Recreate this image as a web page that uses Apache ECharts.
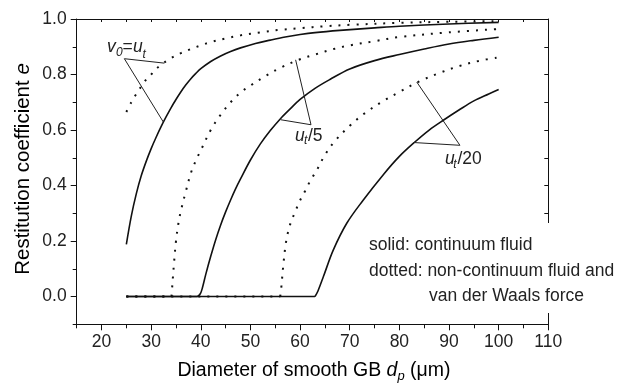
<!DOCTYPE html>
<html>
<head>
<meta charset="utf-8">
<script src="https://cdn.jsdelivr.net/npm/echarts@6/dist/echarts.min.js"></script>
<style>
html,body{margin:0;padding:0;background:#fff;}
#chart{width:625px;height:383px;}
</style>
</head>
<body>
<div id="chart"></div>
<script>
// ---- axis ticks / labels ----
var xMajorTicks = [20, 30, 40, 50, 60, 70, 80, 90, 100, 110];
var xMinorTicks = [15, 25, 35, 45, 55, 65, 75, 85, 95, 105];
var xTopTicks = [15, 20, 25, 30, 35, 40, 45, 50, 55, 60, 65, 70, 75, 80, 85, 90, 95, 100, 105, 110];
var yMajorTicks = [0, 0.2, 0.4, 0.6, 0.8, 1.0];
var yMinorTicks = [-0.1, 0.1, 0.3, 0.5, 0.7, 0.9];
var yRightTicks = [-0.1, 0, 0.1, 0.2, 0.3, 0.4, 0.5, 0.6, 0.7, 0.8, 0.9, 1.0];

// ---- v0 = ut ----
var solid1_d = [25, 26, 27, 28, 29, 30, 31, 32, 33, 34, 35, 36, 37, 38, 39, 40, 42, 44, 46, 48, 51, 54, 57, 60, 63, 68, 75, 80, 90, 100];
var solid1_e = [0.188, 0.29, 0.37, 0.435, 0.487, 0.533, 0.574, 0.612, 0.647, 0.68, 0.71, 0.738, 0.763, 0.785, 0.804, 0.821, 0.847, 0.867, 0.883, 0.896, 0.912, 0.924, 0.935, 0.944, 0.951, 0.959, 0.968, 0.974, 0.982, 0.988];
var dotted1_d = [25, 26, 27, 28, 29, 30, 31, 32, 34, 36, 38, 40, 42, 45, 48, 52, 56, 60, 65, 70, 80, 90, 100];
var dotted1_e = [0.665, 0.70, 0.73, 0.757, 0.782, 0.80, 0.82, 0.835, 0.859, 0.877, 0.892, 0.905, 0.917, 0.93, 0.941, 0.952, 0.961, 0.967, 0.974, 0.979, 0.986, 0.99, 0.992];

// ---- ut/5 (first two points: e = 0 plateau) ----
var solid2_d = [25, 39.3, 39.9, 40.3, 41, 42, 43, 44, 45, 46, 47, 48, 50, 52, 54, 56, 58, 60, 63, 66, 70, 75, 80, 85, 90, 95, 100];
var solid2_e = [0, 0, 0.01, 0.03, 0.08, 0.145, 0.205, 0.258, 0.305, 0.348, 0.388, 0.424, 0.492, 0.55, 0.598, 0.64, 0.676, 0.71, 0.75, 0.782, 0.82, 0.85, 0.872, 0.892, 0.91, 0.923, 0.934];
var dotted2_d = [25, 34.1, 34.3, 34.6, 35, 35.5, 36, 37, 38, 39, 40, 42, 44, 46, 48, 50, 53, 56, 60, 63, 67, 70, 75, 80, 90, 100];
var dotted2_e = [0, 0, 0.05, 0.12, 0.2, 0.265, 0.31, 0.38, 0.445, 0.49, 0.527, 0.6, 0.655, 0.7, 0.735, 0.76, 0.794, 0.824, 0.855, 0.872, 0.893, 0.905, 0.92, 0.935, 0.952, 0.964];

// ---- ut/20 (first two points: e = 0 plateau) ----
var solid3_d = [25, 63, 63.6, 64.7, 66.7, 69.4, 72.7, 76.8, 80, 83, 86, 89, 92, 95, 98, 100];
var solid3_e = [0, 0, 0.02, 0.072, 0.168, 0.264, 0.347, 0.44, 0.505, 0.555, 0.6, 0.637, 0.672, 0.705, 0.73, 0.746];
var dotted3_d = [25, 56, 56.2, 56.6, 57.2, 58, 59, 60, 61, 62, 63.5, 65, 67, 70, 73, 77, 80, 84, 88, 92, 96, 100];
var dotted3_e = [0, 0, 0.03, 0.11, 0.2, 0.26, 0.305, 0.347, 0.38, 0.415, 0.46, 0.51, 0.56, 0.615, 0.66, 0.707, 0.737, 0.775, 0.805, 0.83, 0.849, 0.862];

// ---- leader lines (data coordinates) ----
var leaderA_d = [32.65, 24.6, 32.45];
var leaderA_e = [0.841, 0.857, 0.629];
var leaderB_d = [59.1, 62.2, 56.1];
var leaderB_e = [0.853, 0.619, 0.637];
var leaderC_d = [83.5, 92.2, 82.8];
var leaderC_e = [0.773, 0.545, 0.555];

function pairs(xs, ys) { return xs.map(function (x, i) { return [x, ys[i]]; }); }

var FONT = '"Liberation Sans", Arial, Helvetica, sans-serif';
var TXT = '#222';
var LINE = '#111';

var chart = echarts.init(document.getElementById('chart'), null, { renderer: 'canvas' });

function lineStyleOf(dotted) {
  return dotted ? { color: LINE, width: 2, type: [2, 7] } : { color: LINE, width: 1.6 };
}
function curve(name, data, dotted, smooth) {
  return {
    name: name, type: 'line', xAxisIndex: 0, yAxisIndex: 0,
    data: data, symbol: 'none', silent: true,
    smooth: smooth ? 0.35 : false,
    lineStyle: lineStyleOf(dotted), z: 3
  };
}
// curves with a zero plateau: straight plateau + smoothed rising branch
function curveWithPlateau(name, xs, ys, dotted) {
  var all = pairs(xs, ys);
  return [
    curve(name, all.slice(0, 2), dotted, false),
    curve(name, all.slice(1), dotted, true)
  ];
}
function leader(xs, ys) {
  return {
    type: 'line', xAxisIndex: 0, yAxisIndex: 0, data: pairs(xs, ys), symbol: 'none', silent: true,
    lineStyle: { color: TXT, width: 1 }, z: 4
  };
}

function gtext(txt, x, y, size, italic) {
  return {
    type: 'text', x: x, y: y, z: 110, silent: true,
    style: { text: txt, fill: TXT, font: (italic ? 'italic ' : '') + size + 'px ' + FONT,
      textAlign: 'left', textVerticalAlign: 'middle' }
  };
}

var axisLineStyle = { onZero: false, lineStyle: { color: LINE, width: 1 } };

var series = [
  curve('v0=ut continuum', pairs(solid1_d, solid1_e), false, true),
  curve('v0=ut non-continuum', pairs(dotted1_d, dotted1_e), true, true)
].concat(
  curveWithPlateau('ut/5 continuum', solid2_d, solid2_e, false),
  curveWithPlateau('ut/5 non-continuum', dotted2_d, dotted2_e, true),
  curveWithPlateau('ut/20 continuum', solid3_d, solid3_e, false),
  curveWithPlateau('ut/20 non-continuum', dotted3_d, dotted3_e, true),
  [leader(leaderA_d, leaderA_e), leader(leaderB_d, leaderB_e), leader(leaderC_d, leaderC_e)]
);

var option = {
  animation: false,
  backgroundColor: '#fff',
  grid: { left: 76.7, right: 76.7, top: 19, bottom: 58.7, containLabel: false },
  xAxis: [
    { type: 'value', position: 'bottom', min: 15, max: 110,
      axisLine: axisLineStyle, splitLine: { show: false },
      axisTick: { show: true, customValues: xMajorTicks, length: 6, inside: false, lineStyle: { color: LINE } },
      axisLabel: { customValues: xMajorTicks, margin: 9, fontSize: 17.5, color: TXT, fontFamily: FONT } },
    { type: 'value', position: 'bottom', min: 15, max: 110,
      axisLine: { show: false, onZero: false }, splitLine: { show: false },
      axisTick: { show: true, customValues: xMinorTicks, length: 4, inside: false, lineStyle: { color: LINE } },
      axisLabel: { show: false } },
    { type: 'value', position: 'top', min: 15, max: 110,
      axisLine: axisLineStyle, splitLine: { show: false },
      axisTick: { show: true, customValues: xTopTicks, length: 3, inside: true, lineStyle: { color: LINE } },
      axisLabel: { show: false } }
  ],
  yAxis: [
    { type: 'value', position: 'left', min: -0.1, max: 1.0,
      axisLine: axisLineStyle, splitLine: { show: false },
      axisTick: { show: true, customValues: yMajorTicks, length: 6, inside: false, lineStyle: { color: LINE } },
      axisLabel: { customValues: yMajorTicks, margin: 10, fontSize: 17.5, color: TXT, fontFamily: FONT,
        formatter: function (v) { return v.toFixed(1); } } },
    { type: 'value', position: 'left', min: -0.1, max: 1.0,
      axisLine: { show: false, onZero: false }, splitLine: { show: false },
      axisTick: { show: true, customValues: yMinorTicks, length: 4, inside: false, lineStyle: { color: LINE } },
      axisLabel: { show: false } },
    { type: 'value', position: 'right', min: -0.1, max: 1.0,
      axisLine: axisLineStyle, splitLine: { show: false },
      axisTick: { show: true, customValues: yRightTicks, length: 4, inside: true, lineStyle: { color: LINE } },
      axisLabel: { show: false } }
  ],
  series: series,
  graphic: [
    // gap in right axis behind the note
    { type: 'rect', z: 100, silent: true, shape: { x: 540, y: 223, width: 20, height: 90 }, style: { fill: '#fff' } },
    // v0 = ut
    gtext('v', 107, 47.5, 17.5, true),
    gtext('0', 116, 52.7, 12, true),
    gtext('=', 122.5, 47.5, 17.5, false),
    gtext('u', 133, 47.5, 17.5, true),
    gtext('t', 142.5, 54.3, 12, true),
    // ut/5
    gtext('u', 295, 136, 17.5, true),
    gtext('t', 304, 141, 12, true),
    gtext('/5', 308, 136, 17.5, false),
    // ut/20
    gtext('u', 445, 159.4, 17.5, true),
    gtext('t', 453.3, 164.3, 12, true),
    gtext('/20', 457.5, 159.4, 17.5, false),
    // note
    gtext('solid: continuum fluid', 369, 245.4, 17.5, false),
    gtext('dotted: non-continuum fluid and', 369, 271, 17.5, false),
    gtext('van der Waals force', 429, 296, 17.5, false),
    // x title
    { type: 'text', x: 314, y: 371, z: 110, silent: true,
      style: { text: '{a|Diameter of smooth GB }{i|d}{s|p}{a| (\u03bcm)}', textAlign: 'center', textVerticalAlign: 'middle',
        rich: {
          a: { fontSize: 19.5, fontFamily: FONT, color: TXT, lineHeight: 24 },
          i: { fontSize: 19.5, fontFamily: FONT, fontStyle: 'italic', color: TXT, lineHeight: 24 },
          s: { fontSize: 13, fontFamily: FONT, fontStyle: 'italic', color: TXT, lineHeight: 13, verticalAlign: 'bottom' }
        } } },
    // y title
    { type: 'text', x: 23, y: 169, rotation: Math.PI / 2, z: 110, silent: true,
      style: { text: '{a|Restitution coefficient }{i|e}', textAlign: 'center', textVerticalAlign: 'middle',
        rich: {
          a: { fontSize: 20.5, fontFamily: FONT, color: TXT, lineHeight: 24 },
          i: { fontSize: 20.5, fontFamily: FONT, fontStyle: 'italic', color: TXT, lineHeight: 24 }
        } } }
  ]
};
chart.setOption(option);
</script>
</body>
</html>
